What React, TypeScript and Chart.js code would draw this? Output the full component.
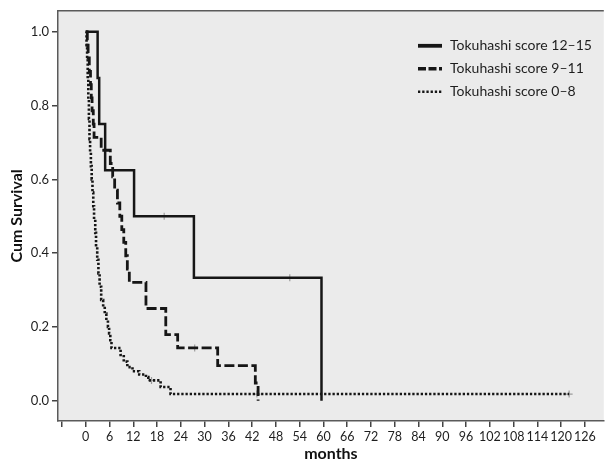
import { useEffect, useRef } from 'react';
import { Chart, registerables } from 'chart.js';

Chart.register(...registerables);

const seriesLabels = ['Tokuhashi score 12–15', 'Tokuhashi score 9–11', 'Tokuhashi score 0–8'];

// Tokuhashi 12–15 (step points: month where survival changes, new survival)
const monthsHigh = [0, 3.0, 3.4, 4.9, 12.2, 27.3, 59.5];
const survHigh = [1.0, 0.875, 0.75, 0.625, 0.5, 0.333, 0.0];
const censorMonthsHigh = [19.8, 51.5];
const censorSurvHigh = [0.5, 0.333];

// Tokuhashi 9–11
const monthsMid = [0, 0.4, 0.6, 0.9, 1.2, 1.4, 1.6, 1.9, 2.1, 3.9, 6.2, 6.8, 7.3, 8.0, 8.6, 9.1, 9.6, 10.1, 10.5, 11.0, 15.2, 20.2, 23.2, 33.3, 42.8, 43.5];
const survMid = [1.0, 0.964, 0.929, 0.893, 0.857, 0.821, 0.786, 0.75, 0.714, 0.679, 0.643, 0.607, 0.571, 0.536, 0.5, 0.464, 0.429, 0.393, 0.357, 0.321, 0.25, 0.179, 0.143, 0.095, 0.048, 0.0];
const censorMonthsMid = [27.5];
const censorSurvMid = [0.143];

// Tokuhashi 0–8
const monthsLow = [0, 0.2, 0.35, 0.5, 0.65, 0.8, 0.95, 1.1, 1.3, 1.5, 1.7, 1.9, 2.1, 2.4, 2.6, 2.9, 3.2, 3.5, 3.9, 4.4, 4.8, 5.2, 5.6, 5.9, 6.2, 6.5, 8.8, 9.6, 10.5, 11.8, 13.5, 15.2, 15.8, 18.9, 21.4, 122];
const survLow = [1.0, 0.964, 0.927, 0.873, 0.818, 0.764, 0.709, 0.673, 0.636, 0.6, 0.564, 0.527, 0.491, 0.455, 0.418, 0.382, 0.345, 0.309, 0.273, 0.255, 0.236, 0.218, 0.2, 0.182, 0.164, 0.143, 0.124, 0.106, 0.091, 0.08, 0.071, 0.064, 0.055, 0.037, 0.018, 0.018];
const censorMonthsLow = [16.6, 43.2, 122];
const censorSurvLow = [0.055, 0.018, 0.018];

const xTickValues = [-6, 0, 6, 12, 18, 24, 30, 36, 42, 48, 54, 60, 66, 72, 78, 84, 90, 96, 102, 108, 114, 120, 126];
const xTickLabels = ['', '0', '6', '12', '18', '24', '30', '36', '42', '48', '54', '60', '66', '72', '78', '84', '90', '96', '102', '108', '114', '120', '126'];
const yTickValues = [0, 0.2, 0.4, 0.6, 0.8, 1.0];
const yTickLabels = ['0.0', '0.2', '0.4', '0.6', '0.8', '1.0'];

const FONT = 'Lato';
const LINE = '#161616';

const toPts = (xs: number[], ys: number[]) => xs.map((x, i) => ({ x, y: ys[i] }));

const framePlugin = {
  id: 'frameLegend',
  beforeDraw(chart: any) {
    const { ctx, chartArea: a } = chart;
    ctx.save();
    ctx.fillStyle = '#ebebeb';
    ctx.fillRect(a.left, a.top, a.right - a.left, a.bottom - a.top);
    ctx.restore();
  },
  afterDraw(chart: any) {
    const { ctx, chartArea: a } = chart;
    ctx.save();
    ctx.strokeStyle = '#5a5a5a';
    ctx.lineWidth = 1.5;
    ctx.beginPath();
    ctx.moveTo(a.left, a.top);
    ctx.lineTo(a.right, a.top);
    ctx.stroke();

    const x0 = a.left + 360;
    const sampleLen = 24;
    chart.data.datasets.forEach((ds: any) => {
      if (!ds.legendDash) return;
      const y = a.top + 35 + ds.legendRow * 23;
      ctx.strokeStyle = LINE;
      ctx.lineWidth = ds.legendWidth;
      ctx.lineCap = 'butt';
      ctx.setLineDash(ds.legendDash);
      ctx.beginPath();
      ctx.moveTo(x0, y);
      ctx.lineTo(x0 + sampleLen, y);
      ctx.stroke();
      ctx.setLineDash([]);
      ctx.fillStyle = '#1e1e1e';
      ctx.font = `14px ${FONT}`;
      ctx.textBaseline = 'middle';
      ctx.textAlign = 'left';
      ctx.fillText(ds.label, x0 + 32, y);
    });
    ctx.restore();
  },
};

export default function App() {
  const ref = useRef<HTMLCanvasElement | null>(null);
  useEffect(() => {
    if (!ref.current) return;
    const censorStyle = {
      type: 'line' as const,
      showLine: false,
      pointStyle: 'cross',
      pointRadius: 3.5,
      pointBorderColor: '#9c9c9c',
      pointBorderWidth: 1.2,
      borderColor: '#9c9c9c',
    };
    const chart = new Chart(ref.current, {
      type: 'line',
      data: {
        datasets: [
          {
            label: seriesLabels[2],
            data: toPts(monthsLow, survLow),
            stepped: 'before',
            borderColor: LINE,
            borderWidth: 2.6,
            borderDash: [2.3, 1.9],
            pointRadius: 0,
            fill: false,
            legendDash: [2.3, 1.9],
            legendWidth: 2.5,
            legendRow: 2,
          } as any,
          {
            label: seriesLabels[1],
            data: toPts(monthsMid, survMid),
            stepped: 'before',
            borderColor: LINE,
            borderWidth: 2.8,
            borderDash: [10, 3.5],
            pointRadius: 0,
            fill: false,
            legendDash: [8, 2.5],
            legendWidth: 3.5,
            legendRow: 1,
          } as any,
          {
            label: seriesLabels[0],
            data: toPts(monthsHigh, survHigh),
            stepped: 'before',
            borderColor: LINE,
            borderWidth: 2.5,
            pointRadius: 0,
            fill: false,
            legendDash: [],
            legendWidth: 3.8,
            legendRow: 0,
          } as any,
          { ...censorStyle, label: 'c1', data: toPts(censorMonthsHigh, censorSurvHigh) } as any,
          { ...censorStyle, label: 'c2', data: toPts(censorMonthsMid, censorSurvMid) } as any,
          { ...censorStyle, label: 'c3', data: toPts(censorMonthsLow, censorSurvLow) } as any,
        ],
      },
      options: {
        animation: false,
        responsive: false,
        devicePixelRatio: 1,
        layout: { padding: { top: 10, right: 0, left: 0, bottom: 0 } },
        plugins: { legend: { display: false }, tooltip: { enabled: false } },
        scales: {
          x: {
            type: 'linear',
            min: -7,
            max: 130.75,
            afterBuildTicks: (s: any) => {
              s.ticks = xTickValues.map((v) => ({ value: v }));
            },
            afterFit: (s: any) => {
              s.height = 42;
            },
            ticks: {
              autoSkip: false,
              maxRotation: 0,
              padding: 2,
              color: '#1e1e1e',
              font: { family: FONT, size: 12.5 },
              callback: (_v: any, i: number) => xTickLabels[i],
            },
            grid: { display: true, drawOnChartArea: false, drawTicks: true, tickLength: 6, color: '#444', lineWidth: 1.5 },
            border: { display: true, color: '#5a5a5a', width: 1.5 },
            title: {
              display: true,
              text: 'months',
              color: '#111',
              font: { family: FONT, size: 16, weight: 'bold' },
              padding: { top: 0, bottom: 0 },
            },
          },
          y: {
            type: 'linear',
            min: -0.055,
            max: 1.057,
            afterBuildTicks: (s: any) => {
              s.ticks = yTickValues.map((v) => ({ value: v }));
            },
            afterFit: (s: any) => {
              s.width = 58;
            },
            ticks: {
              autoSkip: false,
              padding: 3,
              color: '#1e1e1e',
              font: { family: FONT, size: 13 },
              callback: (_v: any, i: number) => yTickLabels[i],
            },
            grid: { display: true, drawOnChartArea: false, drawTicks: true, tickLength: 6, color: '#444', lineWidth: 1.5 },
            border: { display: true, color: '#5a5a5a', width: 1.5 },
            title: {
              display: true,
              text: 'Cum Survival',
              color: '#111',
              font: { family: FONT, size: 16, weight: 'bold' },
              padding: { top: 7, bottom: 0 },
            },
          },
        },
      } as any,
      plugins: [framePlugin],
    });
    return () => chart.destroy();
  }, []);
  return (
    <div style={{ position: 'absolute', left: 0, top: 0, width: 609, height: 463, background: '#fff' }}>
      <canvas ref={ref} width={609} height={463} style={{ display: 'block' }} />
    </div>
  );
}
